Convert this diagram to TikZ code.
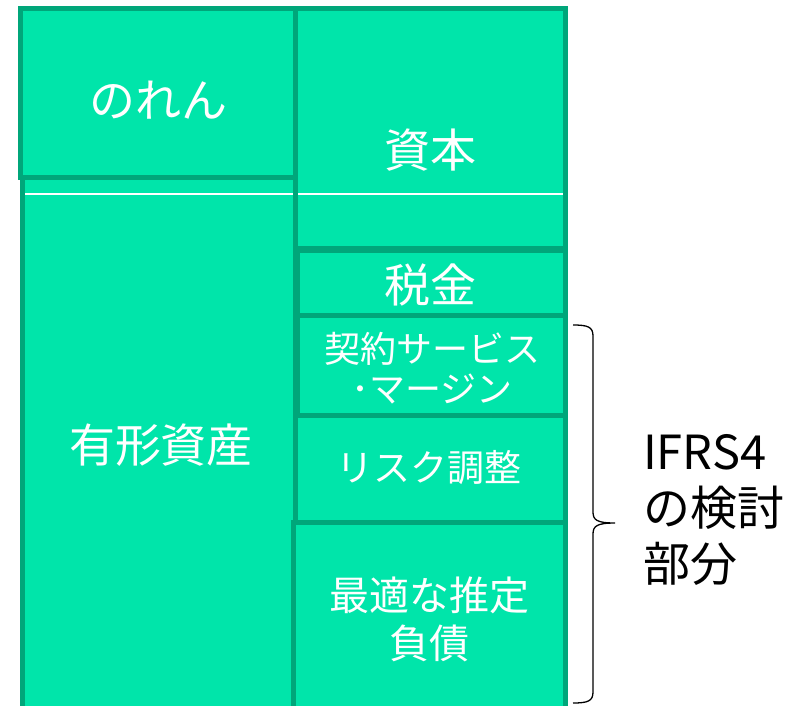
\documentclass[tikz,border=0pt]{standalone}
\usepackage{fontspec}
\setmainfont{Noto Sans CJK JP}
\definecolor{boxfill}{RGB}{0,229,170}
\definecolor{boxline}{RGB}{0,166,122}
\begin{document}
\begin{tikzpicture}[x=1pt,y=-1pt,
  box/.style={draw=boxline,fill=boxfill,line width=5pt},
  txt/.style={text=white,inner sep=0pt,align=center},
  sep/.style={draw=white,line width=1.3pt}]
\useasboundingbox (0,0) rectangle (796,705);
\clip (0,0) rectangle (796,705);
% left column
\draw[box] (22,177) rectangle (295,715);
\draw[box] (20,8) rectangle (295,177);
% right column
\draw[box] (295,8) rectangle (565,248);
\draw[box] (297,250) rectangle (565,315);
\draw[box] (297,315) rectangle (565,415);
\draw[box] (295,415) rectangle (565,522);
\draw[box] (293,522) rectangle (565,715);
% thin white separators
\coordinate (s1) at (25,194); \coordinate (s2) at (293,194);
\coordinate (s3) at (298,194); \coordinate (s4) at (563,194);
\draw[sep] (s1) -- (s2);
\draw[sep] (s3) -- (s4);
% texts
\node[txt,font=\fontsize{46}{50}\selectfont] (noren) at (158,100) {のれん};
\node[txt,font=\fontsize{46}{50}\selectfont] (yukei) at (161,445) {有形資産};
\node[txt,font=\fontsize{46}{50}\selectfont] (shihon) at (430,150) {資本};
\node[txt,font=\fontsize{46}{50}\selectfont] (zeikin) at (430,285) {税金};
\node[txt,font=\fontsize{36}{40}\selectfont] (keiyaku) at (432,368) {契約サービス\\･マージン};
\node[txt,font=\fontsize{37}{42}\selectfont] (risk) at (429,468) {リスク調整};
\node[txt,font=\fontsize{40}{48}\selectfont] (saiteki) at (429,619) {最適な推定\\負債};
% brace
\coordinate (bt) at (573,325);
\coordinate (bm) at (615,523);
\coordinate (bb) at (573,703);
\draw[line width=1.3pt,black] (bt) .. controls (588,325) and (593,327) .. (593,336)
  -- (593,512) .. controls (593,520) and (597,523) .. (bm)
  .. controls (597,523) and (593,526) .. (593,534)
  -- (593,692) .. controls (593,701) and (588,703) .. (bb);
\node[anchor=west,align=left,inner sep=0pt,font=\fontsize{47}{56}\selectfont] (ifrs) at (643,510) {IFRS4\\の検討\\部分};
\end{tikzpicture}
\end{document}
